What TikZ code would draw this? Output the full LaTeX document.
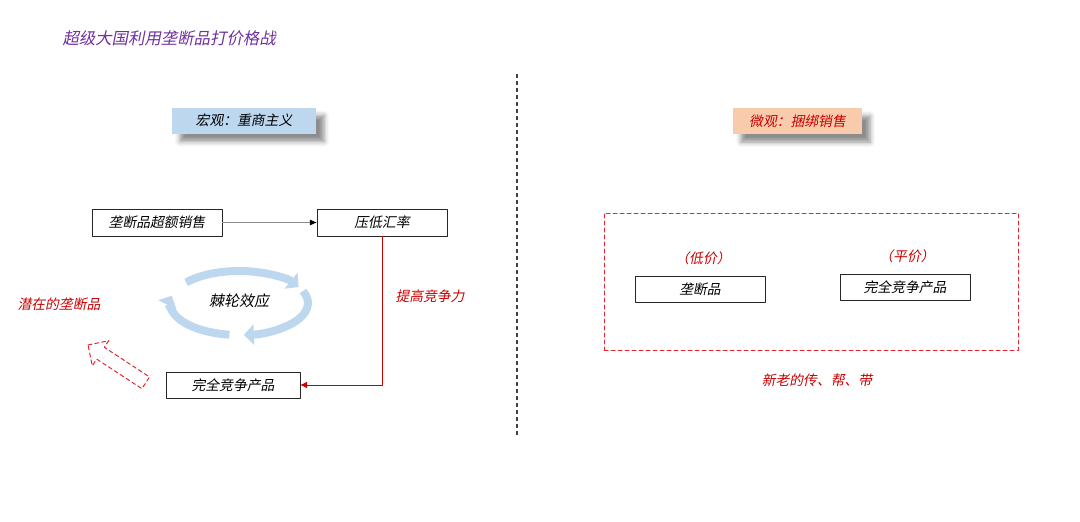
\documentclass[tikz,border=0pt]{standalone}
\usepackage{fontspec}
\newfontfamily\cjk[FakeSlant=0.2]{Noto Sans CJK SC}
\usetikzlibrary{arrows.meta,shadows.blur}
\definecolor{titlepurple}{RGB}{112,48,160}
\definecolor{headblue}{RGB}{189,215,238}
\definecolor{headpeach}{RGB}{248,203,173}
\definecolor{notered}{RGB}{200,0,0}
\definecolor{dashred}{RGB}{225,40,50}
\begin{document}
\begin{tikzpicture}[x=1pt, y=-1pt, line join=round, line cap=round,
    box/.style={draw=black!85, fill=white, minimum width=130pt, minimum height=27pt, inner sep=0pt, font=\cjk\fontsize{13.8}{14}\selectfont},
    headbox/.style={minimum height=26pt, inner sep=0pt, font=\cjk\fontsize{13.8}{14}\selectfont,
      blur shadow={shadow xshift=8pt, shadow yshift=-8pt, shadow blur radius=5pt, shadow opacity=45}},
    note/.style={text=notered, font=\cjk\fontsize{13.8}{14}\selectfont},
    ratchetarc/.style={line width=8pt, headblue, line cap=butt, -{Triangle[width=20pt,length=10pt]}}]
  \useasboundingbox (0,0) rectangle (1080,522);
  % title
  \node[anchor=west, text=titlepurple, font=\cjk\fontsize{16.4}{17}\selectfont] (title) at (59,38) {超级大国利用垄断品打价格战};
  % divider
  \coordinate (divtop) at (517,74);
  \coordinate (divbot) at (517,436);
  \draw[black!75, line width=1.2pt, line cap=butt, dash pattern=on 4pt off 3pt] (divtop) -- (divbot);
  % left: macro
  \node[headbox, fill=headblue, minimum width=144pt] (macro) at (244,120.5) {宏观：重商主义};
  \node[box] (sales) at (157,222.5) {垄断品超额销售};
  \node[box] (rate) at (382,222.5) {压低汇率};
  \node[box, minimum width=134pt, minimum height=26pt] (comp) at (233,385) {完全竞争产品};
  \draw[black!45, -{Latex[black, length=7pt, width=6pt]}] (sales) -- (rate);
  \draw[notered, line width=0.9pt, -{Latex[length=7pt, width=7pt]}] (rate.south) |- (comp.east);
  \node[note] (raise) at (430,296) {提高竞争力};
  % ratchet cycle
  \draw[ratchetarc] ({239+69*cos(-140)},{303+32*sin(-140)}) arc[start angle=-140, end angle=-30, x radius=69, y radius=32];
  \draw[ratchetarc] ({239+69*cos(-22)},{303+32*sin(-22)}) arc[start angle=-22, end angle=86, x radius=69, y radius=32];
  \draw[ratchetarc] ({239+69*cos(98)},{303+32*sin(98)}) arc[start angle=98, end angle=193, x radius=69, y radius=32];
  \node[font=\cjk\fontsize{15}{15}\selectfont] (ratchet) at (239,301) {棘轮效应};
  \node[note] (latent) at (59,304) {潜在的垄断品};
  % hollow arrow
  \draw[dashred, line width=1pt, dash pattern=on 4pt off 3pt]
    (88,345) -- (108.7,340.7) -- (104.3,347.3) -- (149.5,377) -- (141.9,388.7) -- (96.7,359.1) -- (92.3,365.7) -- cycle;
  % right: micro
  \node[headbox, fill=headpeach, minimum width=129pt, text=notered] (micro) at (797.5,121) {微观：捆绑销售};
  \node[draw=dashred, line width=1pt, dash pattern=on 4pt off 3pt, minimum width=414pt, minimum height=137pt, inner sep=0pt] (frame) at (811,281.5) {};
  \node[note] (low) at (703,258) {（低价）};
  \node[note] (flat) at (907,256) {（平价）};
  \node[box, minimum height=26pt] (mono) at (700,289) {垄断品};
  \node[box, minimum height=26pt] (comp2) at (905,287) {完全竞争产品};
  \node[note] (bundle) at (817,380) {新老的传、帮、带};
\end{tikzpicture}
\end{document}
